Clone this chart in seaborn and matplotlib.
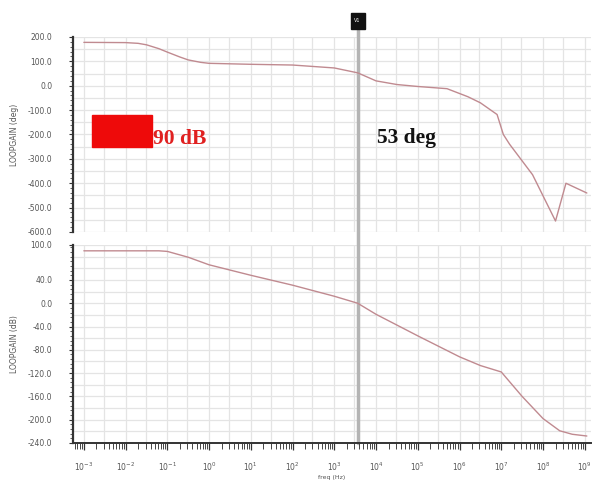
import numpy as np
import pandas as pd
import matplotlib
matplotlib.use("Agg")
import matplotlib.pyplot as plt
import seaborn as sns
from matplotlib.patches import Rectangle
from matplotlib.ticker import FixedLocator, LogLocator, NullFormatter

# ---- data ----
gain_logf = [-3, -2, -1.2, -1, -0.5, 0, 1, 2, 3, 3.56, 4, 5, 6, 6.5, 7, 7.5, 8, 8.4, 8.7, 9.05]
gain_db = [90, 90, 90, 89, 79, 66, 48, 31, 12, 0, -19, -56, -92, -107, -118, -160, -198, -219, -225, -228]

phase_logf = [-3, -2, -1.7, -1.5, -1.2, -1, -0.7, -0.5, -0.2, 0, 1, 2, 3, 3.56, 4, 4.5, 5, 5.7, 6.2, 6.5, 6.9, 7.05, 7.2, 7.75, 8.3, 8.55, 9.05]
phase_deg = [178, 177, 174, 168, 152, 138, 118, 106, 96, 92, 88, 85, 73, 53, 20, 5, -3, -12, -45, -70, -118, -200, -240, -365, -555, -400, -440]

cursor_logf = 3.56
phase_yticks = [200, 100, 0, -100, -200, -300, -400, -500, -600]
gain_yticks = [100, 40, 0, -40, -80, -120, -160, -200, -240]
xtick_exps = list(range(-3, 10))

line_color = "#c08a90"

gain_df = pd.DataFrame({"freq": 10.0 ** np.array(gain_logf), "val": gain_db})
phase_df = pd.DataFrame({"freq": 10.0 ** np.array(phase_logf), "val": phase_deg})

sns.set_theme(style="white")
plt.rcParams["font.family"] = ["DejaVu Sans"]

W, H = 597, 484
fig = plt.figure(figsize=(W / 100, H / 100), dpi=100)

def fbox(x0, y0, x1, y1):
    return [x0 / W, 1 - y1 / H, (x1 - x0) / W, (y1 - y0) / H]

ax1 = fig.add_axes(fbox(73, 37, 591, 232))
ax2 = fig.add_axes(fbox(73, 245, 591, 443))

xlim = (10 ** -3.26, 10 ** 9.15)
grid_col = "#e4e4e4"

for ax, df, ylim, yt, hstep, lab in [
    (ax1, phase_df, (-600, 200), phase_yticks, 50, "LOOPGAIN (deg)"),
    (ax2, gain_df, (-240, 100), gain_yticks, 20, "LOOPGAIN (dB)"),
]:
    # light grid: decades + one mid line per decade, horizontal every half step
    for e in xtick_exps:
        for m in (1.0, 3.0):
            ax.axvline(m * 10.0 ** e, color=grid_col, lw=0.9, zorder=0)
    for yv in np.arange(ylim[0], ylim[1] + 1, hstep):
        ax.axhline(yv, color=grid_col, lw=0.9, zorder=0)
    sns.lineplot(data=df, x="freq", y="val", ax=ax, color=line_color, lw=1.0, zorder=3)
    ax.set_xscale("log")
    ax.set_xlim(*xlim)
    ax.set_ylim(*ylim)
    ax.yaxis.set_major_locator(FixedLocator(yt))
    ax.set_yticklabels([f"{v:.1f}" for v in yt])
    ax.yaxis.set_minor_locator(FixedLocator(np.arange(ylim[0], ylim[1] + 1, hstep / 2.5)))
    ax.xaxis.set_major_locator(FixedLocator([10.0 ** e for e in xtick_exps]))
    ax.xaxis.set_minor_locator(LogLocator(base=10, subs=np.arange(2, 10), numticks=100))
    ax.xaxis.set_minor_formatter(NullFormatter())
    ax.grid(False)
    for s in ["top", "right", "bottom"]:
        ax.spines[s].set_visible(False)
    ax.spines["left"].set_color("#333333")
    ax.spines["left"].set_linewidth(1.6)
    ax.tick_params(axis="y", which="major", left=True, length=3, width=0.8, color="#333333",
                   labelsize=5.5, labelcolor="#555555", pad=12)
    ax.tick_params(axis="y", which="minor", left=True, length=2, width=0.6, color="#444444")
    ax.set_ylabel(lab, fontsize=5.5, color="#555555", labelpad=6)
    ax.set_xlabel("")
    ax.axvline(10 ** cursor_logf, color="#b4b4b4", lw=2.5, zorder=1)

ax1.tick_params(axis="x", which="both", bottom=False, labelbottom=False)
ax2.spines["bottom"].set_visible(True)
ax2.spines["bottom"].set_color("#333333")
ax2.spines["bottom"].set_linewidth(1.4)
ax2.tick_params(axis="x", which="major", bottom=True, length=5, width=0.9, color="#333333",
                labelsize=5.5, labelcolor="#555555", pad=8)
ax2.tick_params(axis="x", which="minor", bottom=True, length=4, width=0.7, color="#444444")
ax2.set_xticklabels([f"$10^{{{e}}}$" for e in xtick_exps])
ax2.set_xlabel("freq (Hz)", fontsize=4.5, color="#555555", labelpad=1)

# cursor extension and marker
cx = 73 + (cursor_logf + 3.26) / (9.15 + 3.26) * (591 - 73)
fig.add_artist(plt.Line2D([cx / W, cx / W], [1 - 443 / H, 1 - 25 / H], color="#b4b4b4", lw=2.5, zorder=0))
fig.add_artist(Rectangle(((cx - 7) / W, 1 - 29 / H), 14 / W, 16 / H, color="#111111", transform=fig.transFigure))
fig.text(cx / W, 1 - 21 / H, "V1", color="white", fontsize=3.5, ha="center", va="center")

# annotations
fig.add_artist(Rectangle((92 / W, 1 - 147 / H), 60 / W, 32 / H, color="#ee0a0a", transform=fig.transFigure))
fig.text(153 / W, 1 - 139 / H, "90 dB", color="#e02020", fontsize=15.5, fontweight="bold",
         family="Liberation Serif", ha="left", va="center")
fig.text(377 / W, 1 - 138 / H, "53 deg", color="#111111", fontsize=15.5, fontweight="bold",
         family="Liberation Serif", ha="left", va="center")

fig.savefig("out.png", dpi=100, facecolor="white")
